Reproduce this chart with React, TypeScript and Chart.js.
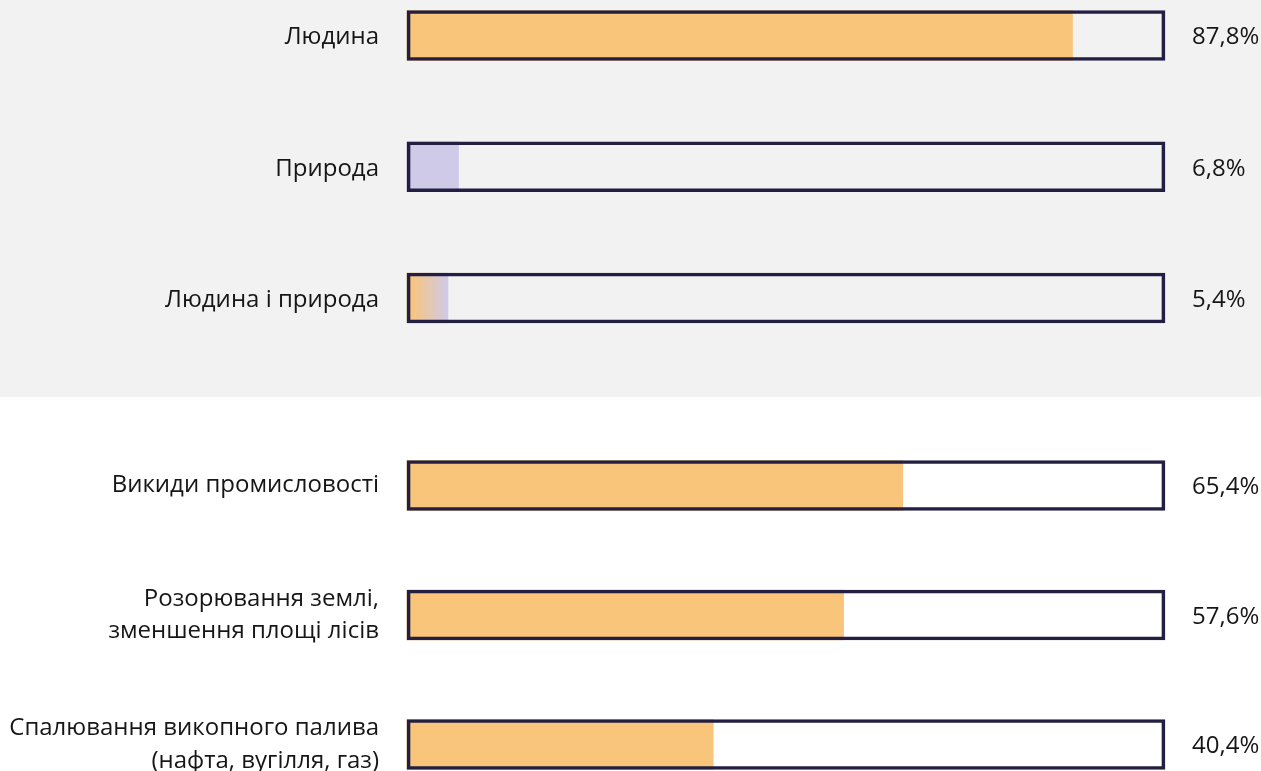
import React, { useEffect, useRef } from "react";
import { Chart, registerables } from "chart.js";

Chart.register(...registerables);

// ---- data ----
const topCategories: (string | string[])[] = ["Людина", "Природа", "Людина і природа"];
const topValues: number[] = [87.8, 6.8, 5.4];
const topValueLabels: string[] = ["87,8%", "6,8%", "5,4%"];

const bottomCategories: (string | string[])[] = [
  "Викиди промисловості",
  ["Розорювання землі,", "зменшення площі лісів"],
  ["Спалювання викопного палива", "(нафта, вугілля, газ)"],
];
const bottomValues: number[] = [65.4, 57.6, 40.4];
const bottomValueLabels: string[] = ["65,4%", "57,6%", "40,4%"];

const trackMax = 100;

// ---- styles ----
const ORANGE = "#F9C57A";
const PURPLE = "#CFCAE8";
const NAVY = "#231F42";
const GRAY_BG = "#F2F2F2";
const TEXT = "#161616";
const FONT = "'Open Sans', 'Noto Sans', sans-serif";
const topFillKinds = ["orange", "purple", "mixed"];
const bottomFillKinds = ["orange", "orange", "orange"];

const W = 1261;
const LEFT_AXIS_W = 407;
const RIGHT_AXIS_W = 96;

type PanelProps = {
  categories: (string | string[])[];
  values: number[];
  valueLabels: string[];
  kinds: string[];
  height: number;
  padTop: number;
  padBottom: number;
  leftLabelShift: number;
  bg: string;
};

function Panel({ categories, values, valueLabels, kinds, height, padTop, padBottom, leftLabelShift, bg }: PanelProps) {
  const ref = useRef<HTMLCanvasElement | null>(null);
  useEffect(() => {
    if (!ref.current) return;
    const fillColor = (c: any) => {
      const i = c.dataIndex;
      const k = kinds[i];
      if (k === "purple") return PURPLE;
      if (k === "mixed") {
        const ch = c.chart;
        const xs = ch.scales && ch.scales.x;
        if (!xs || !isFinite(xs.getPixelForValue(0))) return ORANGE;
        const x0 = xs.getPixelForValue(0) + 3;
        const x1 = xs.getPixelForValue(values[i]);
        const g = ch.ctx.createLinearGradient(x0, 0, x1, 0);
        g.addColorStop(0, ORANGE);
        g.addColorStop(1, PURPLE);
        return g;
      }
      return ORANGE;
    };
    const zeroPad = (s: any, w: number) => {
      s.width = w;
      s.paddingTop = 0;
      s.paddingBottom = 0;
    };
    const chart = new Chart(ref.current, {
      type: "bar",
      data: {
        labels: categories,
        datasets: [
          {
            label: "track",
            data: categories.map(() => trackMax),
            backgroundColor: "rgba(0,0,0,0)",
            borderColor: NAVY,
            borderWidth: 3,
            borderSkipped: false,
            barThickness: 50,
            grouped: false,
            clip: false,
          } as any,
          {
            label: "value",
            data: values,
            backgroundColor: fillColor,
            borderWidth: 0,
            barThickness: 50,
            grouped: false,
            clip: false,
          } as any,
        ],
      },
      options: {
        indexAxis: "y",
        responsive: false,
        animation: false,
        events: [],
        layout: { padding: { top: padTop, bottom: padBottom, left: 0, right: 0 } },
        plugins: { legend: { display: false }, tooltip: { enabled: false } },
        scales: {
          x: { display: false, min: 0, max: trackMax },
          y: {
            type: "category",
            position: "left",
            offset: false,
            grid: { display: false, drawTicks: false },
            border: { display: false },
            ticks: {
              padding: 28,
              labelOffset: leftLabelShift,
              color: TEXT,
              font: { family: FONT, size: 24, lineHeight: 1.35 },
            },
            afterFit: (s: any) => zeroPad(s, LEFT_AXIS_W),
          },
          y2: {
            type: "category",
            position: "right",
            labels: valueLabels,
            offset: false,
            grid: { display: false, drawTicks: false },
            border: { display: false },
            ticks: {
              padding: 27,
              labelOffset: 2,
              color: TEXT,
              font: { family: FONT, size: 24, lineHeight: 1.35 },
            },
            afterFit: (s: any) => zeroPad(s, RIGHT_AXIS_W),
          },
        } as any,
      },
    });
    return () => chart.destroy();
  }, []);
  return (
    <div style={{ background: bg, width: W, height }}>
      <canvas ref={ref} width={W} height={height} style={{ display: "block" }} />
    </div>
  );
}

export default function App() {
  return (
    <div style={{ width: W }}>
      <style>{`body{margin:0;background:#ffffff;}`}</style>
      <Panel
        categories={topCategories}
        values={topValues}
        valueLabels={topValueLabels}
        kinds={topFillKinds}
        height={397}
        padTop={35.5}
        padBottom={99}
        leftLabelShift={2}
        bg={GRAY_BG}
      />
      <Panel
        categories={bottomCategories}
        values={bottomValues}
        valueLabels={bottomValueLabels}
        kinds={bottomFillKinds}
        height={374}
        padTop={88.5}
        padBottom={26.5}
        leftLabelShift={0}
        bg="#ffffff"
      />
    </div>
  );
}
